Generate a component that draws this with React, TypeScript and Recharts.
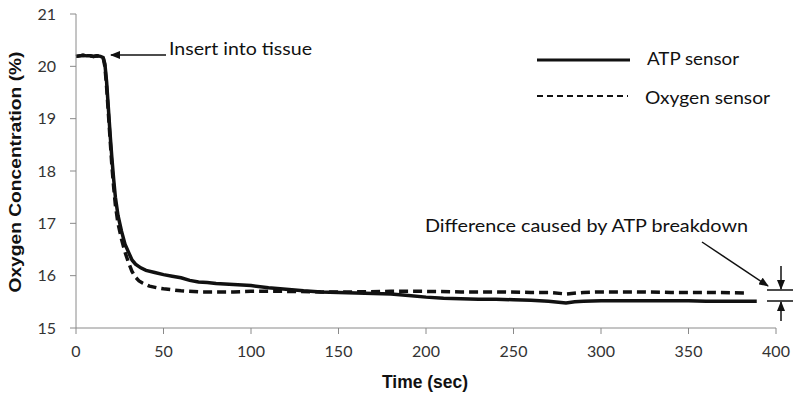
import { LineChart, Line, XAxis, YAxis } from 'recharts'

const atpTime = [0, 2, 4, 6, 8, 10, 12, 14, 15.5, 16.5, 17.5, 18.5, 19.5, 20.5, 21.5, 22.5, 24, 26, 28, 30, 32, 34, 37, 40, 45, 50, 55, 60, 65, 70, 75, 80, 90, 100, 110, 120, 130, 140, 150, 160, 170, 180, 190, 200, 210, 220, 230, 240, 250, 260, 270, 280, 285, 290, 300, 310, 320, 330, 340, 350, 360, 370, 380, 389]
const atpValue = [20.19, 20.2, 20.21, 20.2, 20.2, 20.19, 20.2, 20.19, 20.17, 20.05, 19.7, 19.2, 18.7, 18.25, 17.85, 17.5, 17.15, 16.85, 16.6, 16.45, 16.3, 16.22, 16.15, 16.1, 16.06, 16.02, 15.99, 15.96, 15.91, 15.88, 15.87, 15.85, 15.83, 15.81, 15.77, 15.74, 15.71, 15.69, 15.68, 15.67, 15.66, 15.65, 15.62, 15.59, 15.57, 15.56, 15.55, 15.55, 15.54, 15.53, 15.51, 15.48, 15.5, 15.51, 15.52, 15.52, 15.52, 15.52, 15.52, 15.52, 15.51, 15.51, 15.51, 15.51]

const oxyTime = [0, 2, 4, 6, 8, 10, 12, 14, 15.5, 16.5, 17.5, 18.5, 19.5, 20.5, 21.5, 22.5, 24, 26, 28, 30, 32, 34, 36, 38, 42, 46, 50, 55, 60, 70, 80, 90, 100, 120, 140, 160, 180, 200, 220, 240, 260, 270, 280, 290, 300, 320, 340, 360, 384]
const oxyValue = [20.19, 20.2, 20.21, 20.2, 20.2, 20.19, 20.2, 20.19, 20.17, 20.0, 19.6, 19.1, 18.6, 18.1, 17.7, 17.35, 17.0, 16.7, 16.45, 16.25, 16.08, 15.97, 15.9, 15.86, 15.8, 15.77, 15.75, 15.73, 15.71, 15.69, 15.69, 15.69, 15.7, 15.7, 15.69, 15.69, 15.7, 15.7, 15.69, 15.69, 15.68, 15.68, 15.65, 15.68, 15.69, 15.69, 15.68, 15.68, 15.67]

const xTicks = [0, 50, 100, 150, 200, 250, 300, 350, 400]
const yTicks = [15, 16, 17, 18, 19, 20, 21]

const atpData = atpTime.map((t, i) => ({ t, v: atpValue[i] }))
const oxyData = oxyTime.map((t, i) => ({ t, v: oxyValue[i] }))

const font = 'Lato, "Open Sans", sans-serif'
const axisColor = '#8a8a8a'
const tickStyle = { fill: '#333', fontSize: 16, fontFamily: font }

export default function App() {
  return (
    <div style={{ position: 'absolute', left: 0, top: 0, width: 800, height: 402, background: '#fff' }}>
      <LineChart width={800} height={402} data={atpData} margin={{ top: 14, right: 24, left: 16, bottom: 44 }}>
        <XAxis
          dataKey="t"
          type="number"
          domain={[0, 400]}
          ticks={xTicks}
          stroke={axisColor}
          tickSize={6}
          tickMargin={12}
          tick={tickStyle}
          height={30}
          allowDuplicatedCategory={false}
        />
        <YAxis
          type="number"
          domain={[15, 21]}
          ticks={yTicks}
          stroke={axisColor}
          tickSize={6}
          tickMargin={14}
          tick={tickStyle}
          width={60}
        />
        <Line data={oxyData} dataKey="v" type="linear" stroke="#111" strokeWidth={3.5} strokeDasharray="9 5" dot={false} isAnimationActive={false} />
        <Line data={atpData} dataKey="v" type="linear" stroke="#111" strokeWidth={3.5} dot={false} isAnimationActive={false} />
      </LineChart>
      <svg width={800} height={402} style={{ position: 'absolute', left: 0, top: 0, pointerEvents: 'none' }}>
        <defs>
          <marker id="ah" markerWidth="10" markerHeight="8" refX="9" refY="4" orient="auto" markerUnits="userSpaceOnUse">
            <path d="M0,0 L10,4 L0,8 Z" fill="#111" />
          </marker>
        </defs>
        <text x={15} y={172} transform="rotate(-90 15 172)" textAnchor="middle" dominantBaseline="central" fontFamily='"Liberation Sans", Arial, sans-serif' fontWeight="bold" fontSize={16} fill="#111" textLength={241} lengthAdjust="spacingAndGlyphs">
          Oxygen Concentration (%)
        </text>
        <text x={425} y={382} textAnchor="middle" dominantBaseline="central" fontFamily='"Liberation Sans", Arial, sans-serif' fontWeight="bold" fontSize={18} fill="#111" textLength={86} lengthAdjust="spacingAndGlyphs">
          Time (sec)
        </text>

        <line x1={166} y1={55} x2={111} y2={55} stroke="#111" strokeWidth={1.5} markerEnd="url(#ah)" />
        <text x={169} y={48} dominantBaseline="central" fontFamily={font} fontSize={18} fill="#111" textLength={143} lengthAdjust="spacingAndGlyphs">Insert into tissue</text>

        <line x1={537} y1={60} x2={630} y2={60} stroke="#111" strokeWidth={3} />
        <text x={647} y={58} dominantBaseline="central" fontFamily={font} fontSize={18} fill="#111" textLength={92} lengthAdjust="spacingAndGlyphs">ATP sensor</text>
        <line x1={537} y1={96} x2={628} y2={96} stroke="#111" strokeWidth={1.8} strokeDasharray="6 4" />
        <text x={645} y={97} dominantBaseline="central" fontFamily={font} fontSize={18} fill="#111" textLength={125} lengthAdjust="spacingAndGlyphs">Oxygen sensor</text>

        <text x={425} y={225} dominantBaseline="central" fontFamily={font} fontSize={18} fill="#111" textLength={323} lengthAdjust="spacingAndGlyphs">Difference caused by ATP breakdown</text>
        <line x1={702} y1={242} x2={768} y2={286} stroke="#111" strokeWidth={1.5} markerEnd="url(#ah)" />
        <line x1={767} y1={290} x2={793} y2={290} stroke="#111" strokeWidth={1.5} />
        <line x1={767} y1={301} x2={793} y2={301} stroke="#111" strokeWidth={1.5} />
        <line x1={781} y1={266} x2={781} y2={289} stroke="#111" strokeWidth={1.5} markerEnd="url(#ah)" />
        <line x1={781} y1={321} x2={781} y2={302} stroke="#111" strokeWidth={1.5} markerEnd="url(#ah)" />
      </svg>
    </div>
  )
}
